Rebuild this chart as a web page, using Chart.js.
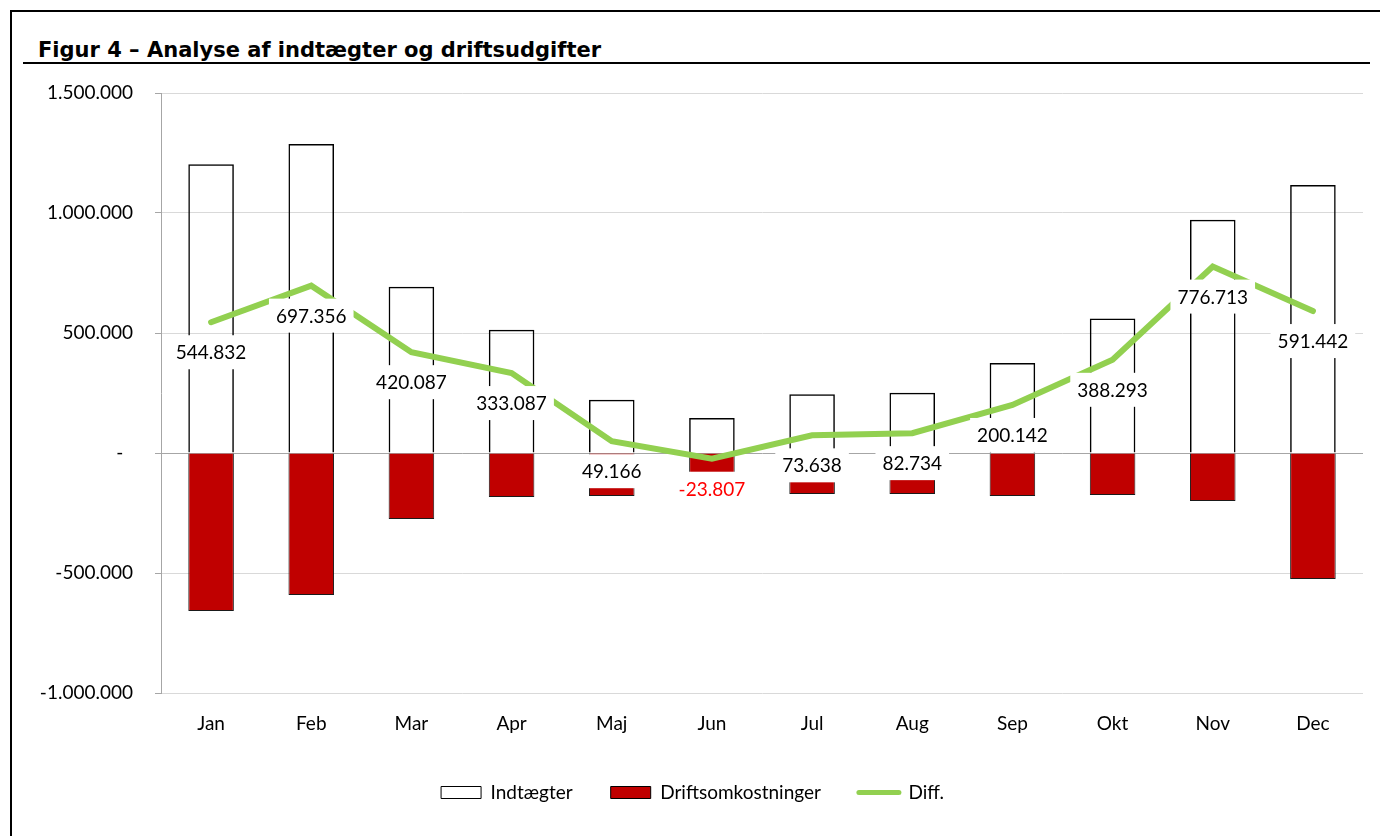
<!DOCTYPE html>
<html lang="da">
<head>
<meta charset="UTF-8">
<title>Figur 4 – Analyse af indtægter og driftsudgifter</title>
<style>
    html, body { margin: 0; padding: 0; background: #fff; }
    body { width: 1380px; height: 836px; position: relative; overflow: hidden; }
    .frame { position: absolute; left: 10px; top: 10px; right: 0; bottom: 0; border-top: 2px solid #000; border-left: 2px solid #000; }
    .title { position: absolute; left: 23px; top: 39px; width: 1347px; padding-left: 15px; box-sizing: border-box;
             font: bold 21px/23px "DejaVu Sans", Verdana, sans-serif; color: #000; border-bottom: 2px solid #000; }
    .chart-box { position: absolute; left: 0; top: 0; width: 1380px; height: 836px; }
</style>
<script src="https://cdn.jsdelivr.net/npm/chart.js"></script>
</head>
<body>
<div class="frame"></div>
<div class="title">Figur 4 – Analyse af indtægter og driftsudgifter</div>
<div class="chart-box"><canvas id="chart"></canvas></div>

<script>
// data (kr.)
const months = ['Jan', 'Feb', 'Mar', 'Apr', 'Maj', 'Jun', 'Jul', 'Aug', 'Sep', 'Okt', 'Nov', 'Dec'];
const indtaegter = [1203000, 1287000, 693000, 514000, 222000, 146000, 245000, 251000, 375000, 560000, 972000, 1117000];
const driftsomkostninger = [-658000, -592000, -275000, -183000, -179000, -170000, -171000, -171000, -179000, -175000, -200000, -525000];
const diff = [544832, 697356, 420087, 333087, 49166, -23807, 73638, 82734, 200142, 388293, 776713, 591442];
const yTicks = [-1000000, -500000, 0, 500000, 1000000, 1500000];

const FONT = { family: 'Lato', size: 19 };

// dansk talformat: 1.500.000, nul vises som "-"
function fmt(v) {
    if (v === 0) return '-\u00a0\u00a0';
    const s = Math.abs(v).toString().replace(/\B(?=(\d{3})+(?!\d))/g, '.');
    return (v < 0 ? '-' : '') + s;
}

// labels under the Diff line, on a white box
const diffLabels = {
    id: 'diffLabels',
    afterDatasetsDraw(chart) {
        const meta = chart.getDatasetMeta(2);
        const ctx = chart.ctx;
        ctx.save();
        ctx.font = FONT.size + 'px ' + FONT.family;
        ctx.textAlign = 'center';
        ctx.textBaseline = 'middle';
        meta.data.forEach((pt, i) => {
            const v = diff[i];
            const txt = fmt(v);
            const w = ctx.measureText(txt).width + 14;
            const h = 34;
            const cx = pt.x, cy = pt.y + 30;
            ctx.fillStyle = '#fff';
            ctx.fillRect(cx - w / 2, cy - h / 2, w, h);
            ctx.fillStyle = v < 0 ? '#ff0000' : '#000';
            ctx.fillText(txt, cx, cy + 1);
        });
        ctx.restore();
    }
};

Chart.defaults.font.family = FONT.family;
Chart.defaults.font.size = FONT.size;
Chart.defaults.color = '#000';

new Chart(document.getElementById('chart'), {
    type: 'bar',
    data: {
        labels: months,
        datasets: [
            {
                label: 'Indtægter',
                data: indtaegter,
                backgroundColor: 'rgba(255,255,255,0)',
                borderColor: '#000',
                borderWidth: 1.5,
                stack: 'maaned',
                order: 1,
                barPercentage: 0.455,
                categoryPercentage: 1
            },
            {
                label: 'Driftsomkostninger',
                data: driftsomkostninger,
                backgroundColor: '#c00000',
                borderColor: '#1a1a1a',
                borderWidth: 1,
                stack: 'maaned',
                order: 2,
                barPercentage: 0.455,
                categoryPercentage: 1
            },
            {
                type: 'line',
                label: 'Diff.',
                data: diff,
                borderColor: '#92d050',
                backgroundColor: '#92d050',
                borderWidth: 6,
                borderCapStyle: 'round',
                borderJoinStyle: 'miter',
                pointRadius: 0,
                tension: 0,
                stack: 'diff',
                order: 0
            }
        ]
    },
    options: {
        responsive: true,
        maintainAspectRatio: false,
        animation: false,
        events: [],
        layout: { padding: { left: 22, top: 93, right: 17, bottom: 24 } },
        scales: {
            x: {
                stacked: true,
                grid: { display: false, drawTicks: false },
                border: { display: false },
                ticks: { padding: 19, font: FONT },
                afterFit: s => { s.height = 52; }
            },
            y: {
                stacked: true,
                min: yTicks[0],
                max: yTicks[yTicks.length - 1],
                afterBuildTicks: s => { s.ticks = yTicks.map(v => ({ value: v })); },
                ticks: { padding: 22, font: FONT, callback: v => fmt(v) },
                grid: {
                    color: c => (c.tick && c.tick.value === 0 ? '#a6a6a6' : '#d9d9d9'),
                    tickColor: '#a6a6a6',
                    tickLength: 6
                },
                border: { color: '#a6a6a6' },
                afterFit: s => { s.width = 139; }
            }
        },
        plugins: {
            tooltip: { enabled: false },
            legend: {
                position: 'bottom',
                labels: {
                    usePointStyle: true,
                    pointStyleWidth: 40,
                    boxHeight: 12,
                    padding: 38,
                    color: '#000',
                    font: FONT,
                    sort: (a, b) => a.datasetIndex - b.datasetIndex,
                    generateLabels(chart) {
                        const items = Chart.defaults.plugins.legend.labels.generateLabels(chart);
                        return items.map(it => {
                            if (it.datasetIndex === 2) {
                                it.pointStyle = 'line';
                                it.lineWidth = 5;
                                it.lineCap = 'round';
                                it.strokeStyle = '#92d050';
                            } else {
                                it.pointStyle = 'rect';
                                it.lineWidth = 1;
                                it.lineCap = 'butt';
                                it.strokeStyle = '#000';
                                if (it.datasetIndex === 0) it.fillStyle = '#fff';
                            }
                            return it;
                        });
                    }
                }
            }
        }
    },
    plugins: [diffLabels]
});
</script>
</body>
</html>
